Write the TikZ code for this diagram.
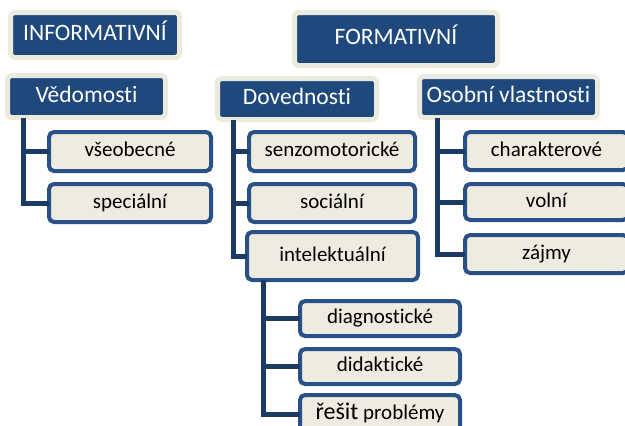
\documentclass[tikz,border=0pt]{standalone}
\usepackage{fontspec}
\setmainfont{Carlito}[Ligatures=NoCommon]
\definecolor{hdrblue}{HTML}{1F497D}
\definecolor{halo}{HTML}{ECE9DD}
\definecolor{itembeige}{HTML}{EEECE1}
\definecolor{itemblue}{HTML}{2A5088}
\definecolor{linkblue}{HTML}{1C3A66}

\begin{document}
\begin{tikzpicture}[x=1pt,y=-1pt,
  hdr/.style={draw=halo,line width=5pt,fill=hdrblue,text=white,rounded corners=4pt,
    outer sep=0pt,inner sep=0pt,text height=16pt,text depth=5pt,
    font=\fontsize{23.5}{26}\selectfont},
  item/.style={draw=itemblue,line width=4pt,fill=itembeige,text=black,rounded corners=5pt,
    outer sep=0pt,inner sep=0pt,text height=14.5pt,text depth=4.5pt,
    font=\fontsize{21}{24}\selectfont},
  conn/.style={draw=linkblue,line width=5pt}]
\useasboundingbox (0,0) rectangle (625,426);
% headers
\node[hdr,minimum width=169,minimum height=45] (inf) at (95,35) {INFORMATIVNÍ};
\node[hdr,minimum width=203,minimum height=53] (form) at (396,39) {FORMATIVNÍ};
\node[hdr,minimum width=158,minimum height=42] (ved) at (86.5,96.5) {Vědomosti};
\node[hdr,minimum width=159,minimum height=41] (dov) at (297,99) {Dovednosti};
\node[hdr,minimum width=178,minimum height=41] (osob) at (508.5,97) {Osobní vlastnosti};
% items
\node[item,minimum width=162,minimum height=39] (vseob) at (130,151.5) {všeobecné};
\node[item,minimum width=162,minimum height=38] (spec) at (130,203) {speciální};
\node[item,minimum width=166,minimum height=39] (senz) at (332,151.5) {senzomotorické};
\node[item,minimum width=166,minimum height=38] (soc) at (332,203) {sociální};
\node[item,minimum width=171,minimum height=48] (intel) at (332.5,256) {intelektuální};
\node[item,minimum width=160,minimum height=35] (diag) at (380,318.5) {diagnostické};
\node[item,minimum width=160,minimum height=35] (didak) at (380,366.5) {didaktické};
\node[item,minimum width=160,minimum height=38] (resit) at (380,414)
  {{\fontsize{24}{26}\selectfont řešit} problémy};
\node[item,minimum width=163,minimum height=38] (char) at (546.5,151) {charakterové};
\node[item,minimum width=163,minimum height=36] (voln) at (546.5,202) {volní};
\node[item,minimum width=163,minimum height=38] (zajmy) at (546.5,254) {zájmy};
% trunks
\coordinate (vedT) at ([xshift=15.5]ved.south west);
\coordinate (dovT) at ([xshift=15.5]dov.south west);
\coordinate (intelT) at ([xshift=16]intel.south west);
\coordinate (osobT) at ([xshift=17.5]osob.south west);
\draw[conn] (vedT) |- (spec.west);
\draw[conn] (vseob.west) -| (vedT);
\draw[conn] (dovT) |- (intel.west);
\draw[conn] (senz.west) -| (dovT);
\draw[conn] (soc.west) -| (dovT);
\draw[conn] (intelT) |- (resit.west);
\draw[conn] (diag.west) -| (intelT);
\draw[conn] (didak.west) -| (intelT);
\draw[conn] (osobT) |- (zajmy.west);
\draw[conn] (char.west) -| (osobT);
\draw[conn] (voln.west) -| (osobT);
\end{tikzpicture}
\end{document}
